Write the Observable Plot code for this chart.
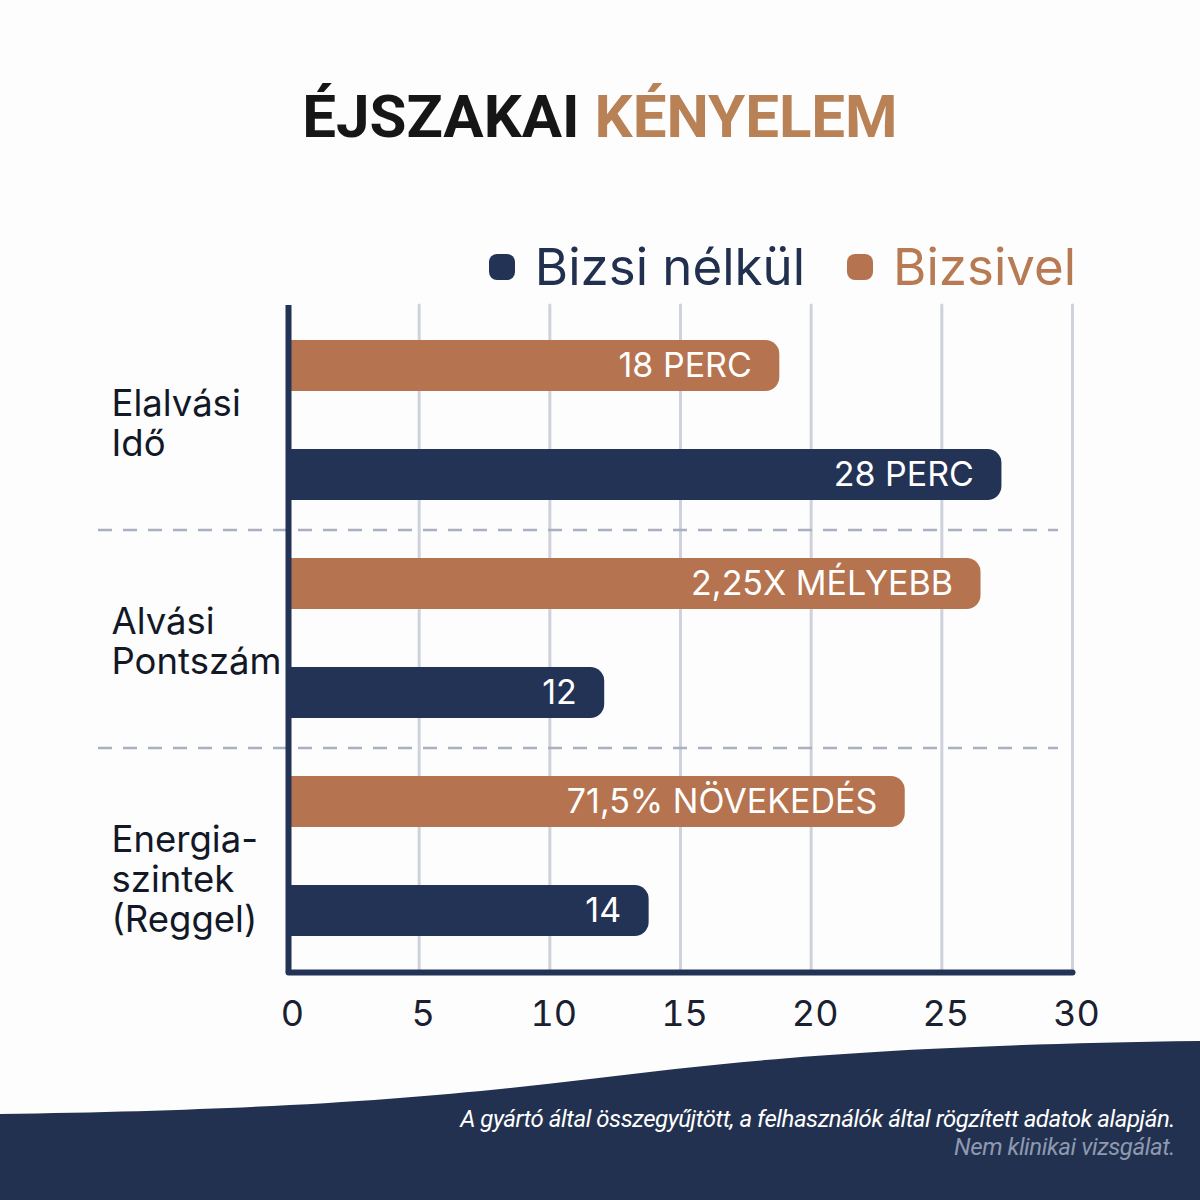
<!DOCTYPE html>
<html>
<head>
<meta charset="utf-8">
<script src="https://cdn.jsdelivr.net/npm/d3@7"></script>
<script src="https://cdn.jsdelivr.net/npm/@observablehq/plot@0.6"></script>
<style>
  html, body { margin: 0; padding: 0; background: #fdfdfd; }
  #page { position: relative; width: 1200px; height: 1200px; overflow: hidden; background: #fdfdfd; font-family: Inter, "Noto Sans", sans-serif; }
  #title { position: absolute; top: 81px; left: 0; width: 1200px; text-align: center; font-family: Roboto, Inter, sans-serif; font-weight: 700; font-size: 60px; letter-spacing: 0px; color: #161616; white-space: nowrap; }
  #title .accent { color: #b98256; }
  #legend { position: absolute; top: 236px; right: 124px; display: flex; align-items: center; font-family: Inter, sans-serif; font-size: 51px; white-space: nowrap; }
  .item { display: flex; align-items: center; }
  .sw { width: 26px; height: 26px; border-radius: 8px; margin-right: 20px; }
  #chart { position: absolute; top: 300px; left: 0; }
  #wave { position: absolute; top: 0; left: 0; }
  #caption { position: absolute; right: 25px; top: 1105px; text-align: right; font-family: Roboto, Inter, sans-serif; font-style: italic; font-size: 24px; line-height: 28px; letter-spacing: -0.45px; }
  #caption .l1 { color: #ffffff; }
  #caption .l2 { color: #8e99b1; }
</style>
</head>
<body>
<div id="page">
  <svg id="wave" width="1200" height="1200"></svg>
  <div id="title"></div>
  <div id="legend"></div>
  <div id="chart"></div>
  <div id="caption"></div>
</div>
<script>
// ---- data ----
const titleParts = ["ÉJSZAKAI", "KÉNYELEM"];
const categories = ["Elalvási Idő", "Alvási Pontszám", "Energiaszintek (Reggel)"];
const categoryLabels = ["Elalvási\nIdő", "Alvási\nPontszám", "Energia-\nszintek\n(Reggel)"];
const seriesNames = ["Bizsivel", "Bizsi nélkül"];
const legendOrder = ["Bizsi nélkül", "Bizsivel"];
const withValues = [18.8, 26.5, 23.6];        // Bizsivel
const withoutValues = [27.3, 12.1, 13.8];     // Bizsi nélkül
const withLabels = ["18 PERC", "2,25X MÉLYEBB", "71,5% NÖVEKEDÉS"];
const withoutLabels = ["28 PERC", "12", "14"];
const xTicks = [0, 5, 10, 15, 20, 25, 30];
const captionLines = ["A gyártó által összegyűjtött, a felhasználók által rögzített adatok alapján.", "Nem klinikai vizsgálat."];

const colors = {"Bizsivel": "#b5744f", "Bizsi nélkül": "#233356"};
const navy = "#233356";

// ---- table ----
const rows = categories.flatMap((c, i) => [
  {cat: c, series: seriesNames[0], key: c + "|" + seriesNames[0], value: withValues[i], label: withLabels[i], catLabel: categoryLabels[i], first: true},
  {cat: c, series: seriesNames[1], key: c + "|" + seriesNames[1], value: withoutValues[i], label: withoutLabels[i], catLabel: categoryLabels[i], first: false}
]);
const firstRows = rows.filter(d => d.first);
const separatorRows = rows.filter((d, i) => !d.first && i < rows.length - 1);

// ---- title / legend / caption ----
document.getElementById("title").innerHTML = `${titleParts[0]} <span class="accent">${titleParts[1]}</span>`;
const legend = d3.select("#legend");
legendOrder.forEach((s, i) => {
  const it = legend.append("div").attr("class", "item").style("margin-left", i ? "42px" : "0px");
  it.append("div").attr("class", "sw").style("background", colors[s]);
  it.append("span").text(s).style("color", s === "Bizsivel" ? "#b77a52" : "#22304f");
});
d3.select("#caption").selectAll("div").data(captionLines).join("div")
  .attr("class", (d, i) => "l" + (i + 1)).text(d => d);

// ---- wave decoration ----
d3.select("#wave").append("path")
  .attr("d", "M0,1114 C 280,1110 430,1098 590,1079 C 750,1059 900,1045 1200,1041 L1200,1200 L0,1200 Z")
  .attr("fill", "#22314f");

// ---- chart ----
const chart = Plot.plot({
  width: 1200,
  height: 742,
  marginLeft: 288,
  marginRight: 128,
  marginTop: 5,
  marginBottom: 70,
  style: {fontFamily: "Inter, sans-serif", background: "transparent", overflow: "visible"},
  x: {domain: [0, 30], label: null},
  y: {domain: rows.map(d => d.key), paddingInner: 0.53, paddingOuter: 0.3, axis: null},
  marks: [
    Plot.gridX(xTicks.slice(1), {stroke: "#cdd2dc", strokeOpacity: 1, strokeWidth: 3, strokeLinecap: "round"}),
    Plot.ruleY(separatorRows, {y: "key", dy: 55, stroke: "#a9b0bf", strokeWidth: 2.5, strokeDasharray: "14 11", insetLeft: -190, insetRight: 14}),
    Plot.barX(rows, {x: "value", y: "key", fill: d => colors[d.series], rx: 14}),
    Plot.barX(rows, {x: "value", y: "key", fill: d => colors[d.series], insetRight: 20}),
    Plot.text(rows, {x: "value", y: "key", text: "label", fill: "white", textAnchor: "end", dx: -28, fontSize: 34}),
    Plot.text(firstRows, {y: "key", text: "catLabel", frameAnchor: "left", dx: -177, dy: 21, textAnchor: "start", lineAnchor: "top", lineHeight: 1.1, fontSize: 36.5, fill: "#121826"}),
    Plot.axisX({ticks: xTicks, tickSize: 0, tickPadding: 28, fontSize: 36, fill: "#1a2030", dx: 4, label: null}),
    Plot.ruleX([0], {stroke: navy, strokeWidth: 6}),
    Plot.frame({anchor: "bottom", stroke: navy, strokeWidth: 6, strokeLinecap: "round"})
  ]
});
document.getElementById("chart").appendChild(chart);
</script>
</body>
</html>
